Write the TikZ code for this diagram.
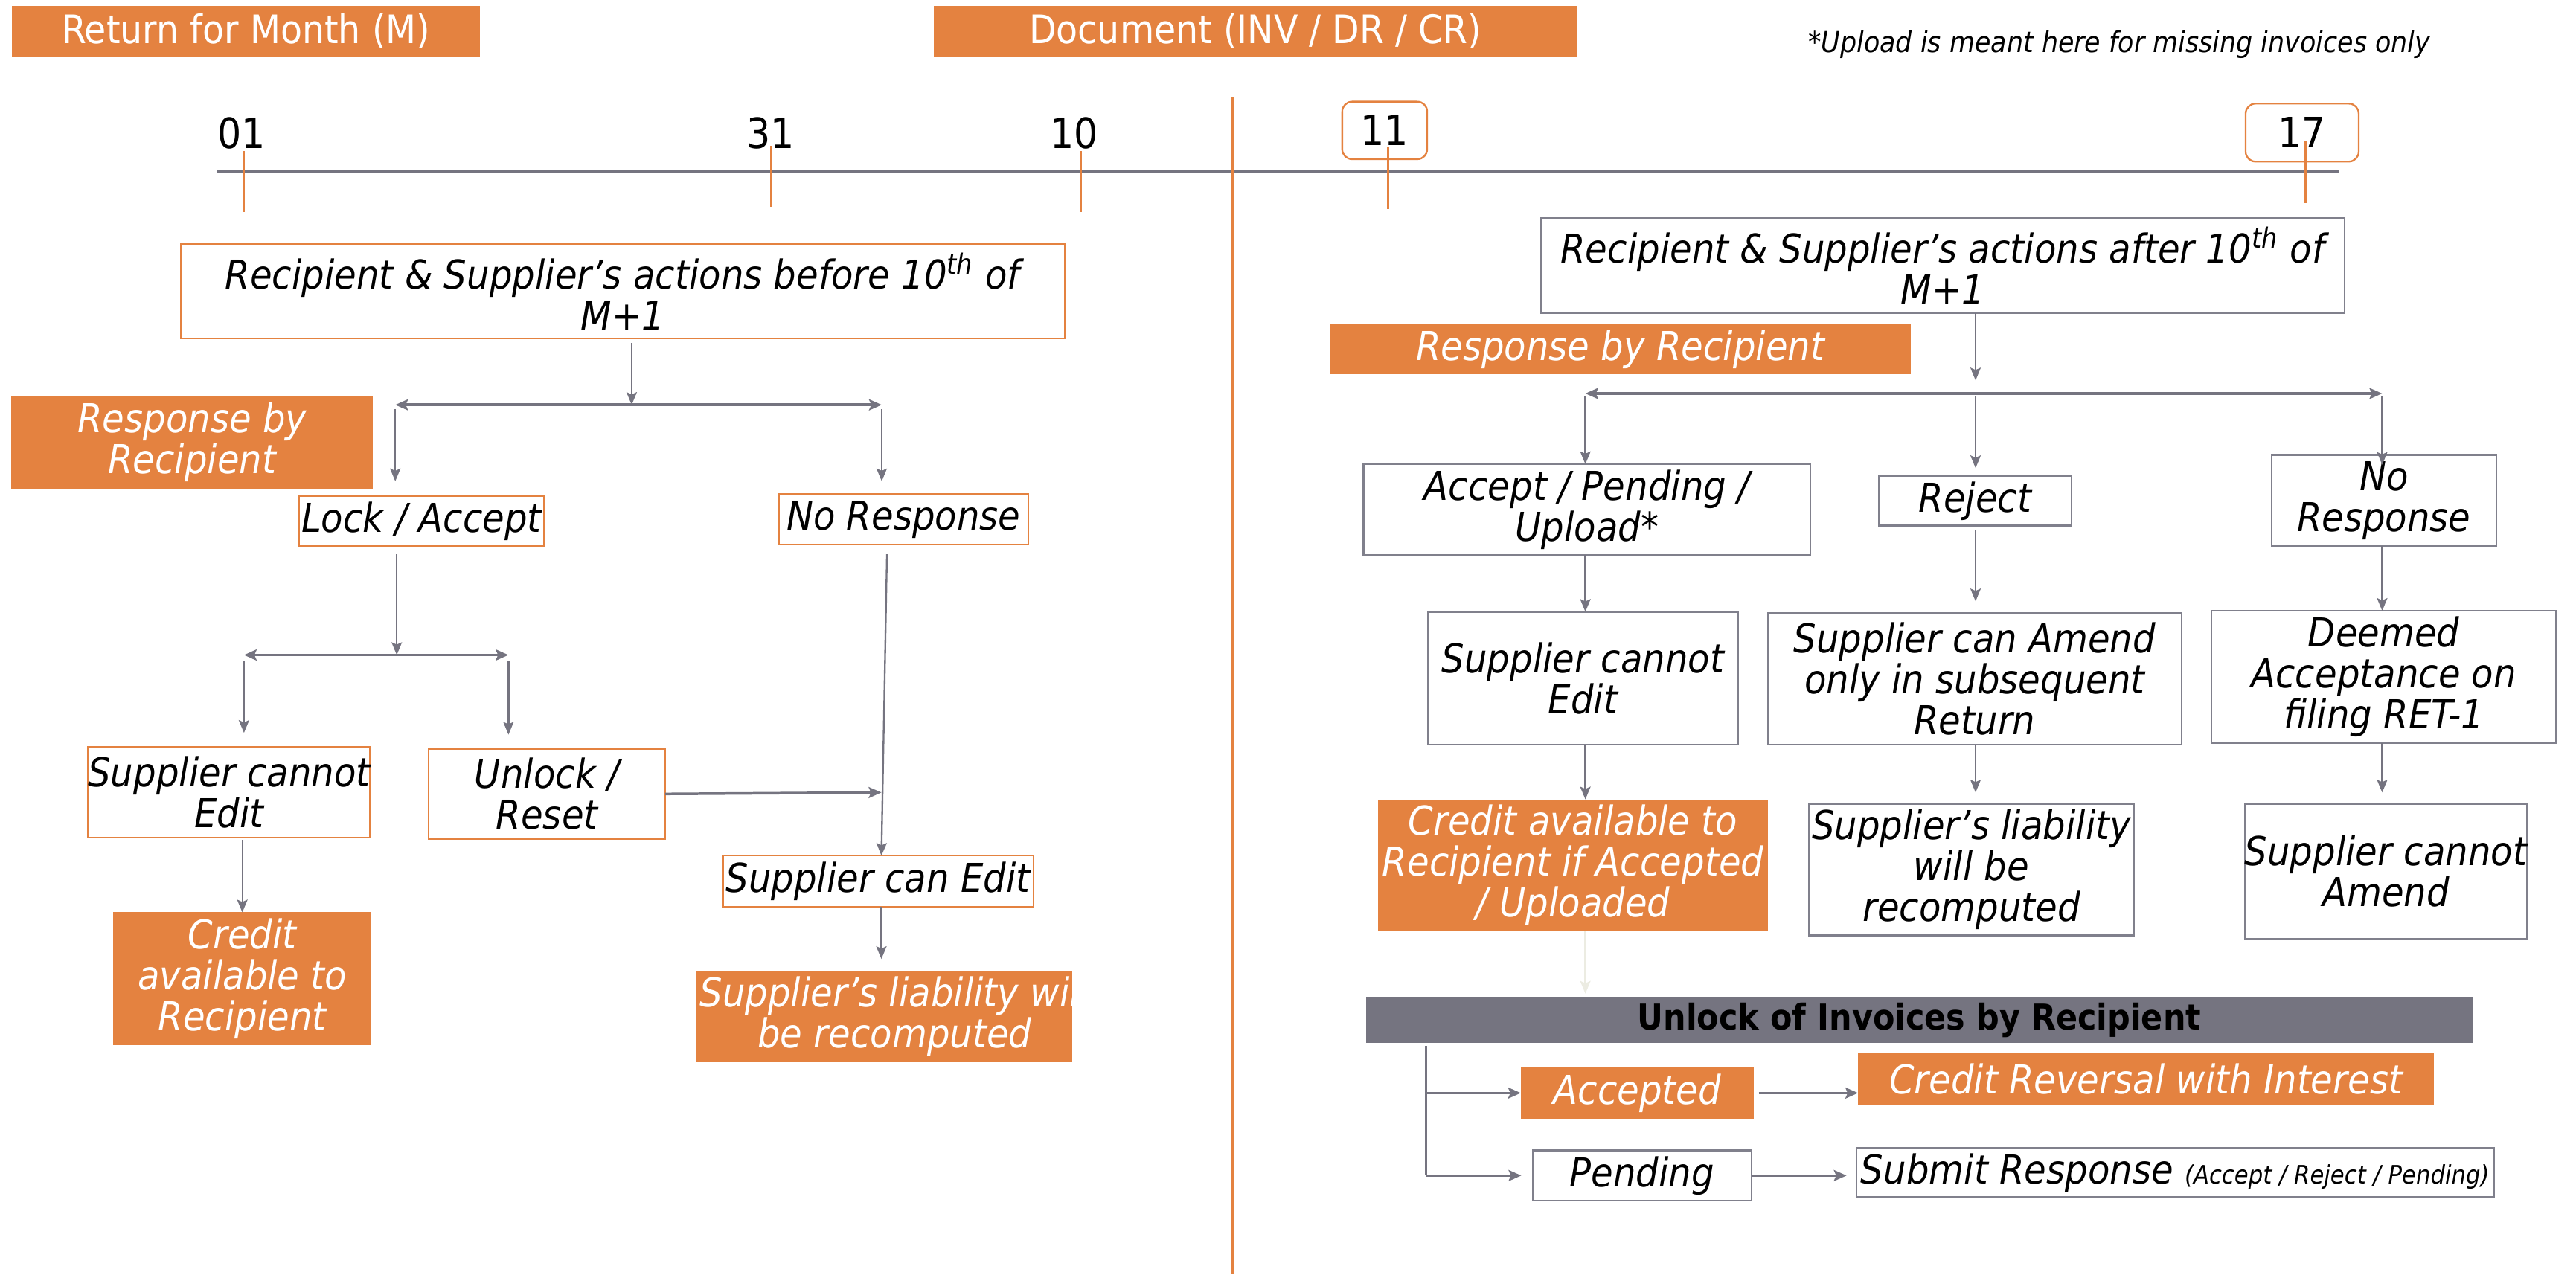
\documentclass[tikz,border=0pt]{standalone}
\usepackage{fontspec}
\setmainfont{DejaVu Sans}[FakeStretch=0.9]
\usetikzlibrary{arrows.meta,calc}

\definecolor{accent}{RGB}{228,130,64}
\definecolor{slate}{RGB}{117,116,128}
\definecolor{frame}{RGB}{128,128,140}
\definecolor{faint}{RGB}{236,236,226}

\newcommand{\bodyfont}{\fontsize{13.8}{14.2}\selectfont\itshape}

\tikzset{
  every node/.style={inner sep=0pt, outer sep=0pt, align=center},
  % a box given by its left, top, right and bottom edges
  span/.style n args={4}{at={({(#1+#3)/2},{(#2+#4)/2})},
    minimum width={(#3-#1)*0.02cm}, minimum height={(#4-#2)*0.02cm}},
  obox/.style={draw=accent, line width=0.6pt, fill=white, font=\bodyfont},
  gbox/.style={draw=frame, line width=0.6pt, fill=white, font=\bodyfont},
  fillbox/.style={fill=accent, text=white, font=\bodyfont},
  header/.style={fill=accent, text=white, font=\fontsize{13.6}{14}\selectfont},
  daybox/.style={draw=accent, line width=0.6pt, rounded corners=0.12cm, font=\fontsize{14.5}{15}\selectfont},
  daylabel/.style={font=\fontsize{14.5}{15}\selectfont, anchor=base},
  tick/.style={draw=accent, line width=0.75pt},
  conn/.style={draw=slate, line width=0.6pt, -{Stealth[length=4.4pt,width=3.6pt,inset=0.8pt]}},
  wide/.style={draw=slate, line width=0.9pt, -{Stealth[length=4.4pt,width=3.8pt,inset=0.8pt]}},
  split/.style={draw=slate, line width=0.9pt, {Stealth[length=4.4pt,width=3.8pt,inset=0.8pt]}-{Stealth[length=4.4pt,width=3.8pt,inset=0.8pt]}},
}

\begin{document}
\begin{tikzpicture}[x=0.02cm, y=-0.02cm]
\useasboundingbox (0,0) rectangle (1568,776);

% ---------- headers ----------
\node[header, span={7.4}{3.6}{292}{34.7}] (hdrMonth) {Return for Month (M)};
\node[header, span={568.6}{3.6}{959.8}{34.7}] (hdrDoc) {Document (INV / DR / CR)};
\node[font=\fontsize{10}{12}\selectfont\itshape, anchor=base] (note) at (1290,32) {*Upload is meant here for missing invoices only};

% ---------- time line ----------
\draw[slate, line width=1.3pt] (131.6,104.4) -- (1424,104.4);
\draw[accent, line width=1.4pt] (750.3,58.9) -- (750.3,776);

\node[daylabel] (d01) at (146.9,90.3) {01};
\node[daylabel] (d31) at (468.9,90.3) {31};
\node[daylabel] (d10) at (654,90.3) {10};
\node[daybox, span={817}{61.9}{868.7}{96.9}] (d11) {11};
\node[daybox, span={1366.9}{63.1}{1435.7}{98.4}] (d17) {17};

\draw[tick] (148.3,92) -- (148.3,129);
\draw[tick] (469.4,89) -- (469.4,126);
\draw[tick] (658,92) -- (658,129);
\draw[tick] (844.7,89.8) -- (844.7,127.3);
\draw[tick] (1403.3,86) -- (1403.3,123.8);

% ---------- before the 10th ----------
\node[obox, span={110}{148.6}{648}{206}] (before) {Recipient \& Supplier’s actions before 10\textsuperscript{th} of\\M+1};
\node[fillbox, span={7}{241}{227}{297.6}] (respL) {Response by\\Recipient};
\node[obox, span={182}{302}{331}{332.5}] (lock) {Lock / Accept};
\node[obox, span={474}{301}{626}{331.5}] (noresL) {No Response};
\node[obox, span={55}{454.7}{224}{510}] (cannotL) {Supplier cannot\\Edit};
\node[obox, span={261}{455.8}{405}{511}] (unlock) {Unlock /\\Reset};
\node[obox, span={440}{521}{629}{552}] (canedit) {Supplier can Edit};
\node[fillbox, span={423.5}{590.9}{652.6}{646.9},
  path picture={\node[font=\bodyfont, text=white, anchor=west]
    at ([xshift=0.05cm]path picture bounding box.west) {Supplier’s liability will\\be recomputed};}] (liabL) {};
\node[fillbox, span={69}{555.5}{226}{636.3}] (creditL) {Credit\\available to\\Recipient};

\coordinate (sL1) at (384.5,246.5);
\coordinate (sL1a) at (240.6,246.5);
\coordinate (sL1b) at (536.7,246.5);
\coordinate (sL2) at (241.5,398.8);
\coordinate (sL2a) at (148.5,398.8);
\coordinate (sL2b) at (309.5,398.8);
\coordinate (mergeL) at (536.5,482.5);
\coordinate (nrFoot) at (540,331.5);
\coordinate (colA) at (147.5,0);

\draw[conn, shorten <=0.06cm] (before.south -| sL1) -- (sL1);
\draw[split] (sL1a) -- (sL1b);
\draw[conn, shorten <=0.05cm, shorten >=0.18cm] (sL1a) -- (sL1a |- lock.north);
\draw[conn, shorten <=0.05cm, shorten >=0.16cm] (sL1b) -- (sL1b |- noresL.north);

\draw[conn, shorten <=0.1cm] (lock.south -| sL2) -- (sL2);
\draw[split] (sL2a) -- (sL2b);
\draw[conn, shorten <=0.08cm, shorten >=0.17cm] (sL2a) -- (sL2a |- cannotL.north);
\draw[conn, shorten <=0.08cm, shorten >=0.17cm] (sL2b) -- (sL2b |- unlock.north);

\draw[wide] (unlock.east) -- (mergeL);
\draw[conn, shorten <=0.12cm] (nrFoot) -- (canedit.north -| mergeL);
\draw[conn, shorten >=0.14cm] (canedit.south -| mergeL) -- (liabL.north -| mergeL);
\draw[conn, shorten <=0.03cm] (cannotL.south -| colA) -- (creditL.north -| colA);

% ---------- after the 10th ----------
\node[gbox, span={938}{132.8}{1427}{190.6}] (after) {Recipient \& Supplier’s actions after 10\textsuperscript{th} of\\M+1};
\node[fillbox, span={809.6}{197.5}{1163}{228}] (respR) {Response by Recipient};
\node[gbox, span={830}{282.6}{1102}{337.8}] (apu) {Accept / Pending /\\Upload*};
\node[gbox, span={1143.6}{290}{1261}{320}] (reject) {Reject};
\node[gbox, span={1382.6}{277}{1519.5}{332.5}] (noresR) {No\\Response};
\node[gbox, span={869}{372.5}{1058}{453.4}] (cannotR) {Supplier cannot\\Edit};
\node[gbox, span={1076}{373.1}{1328}{453.4}] (amend) {Supplier can Amend\\only in subsequent\\Return};
\node[gbox, span={1346}{371.9}{1556}{452.5}] (deemed) {Deemed\\Acceptance on\\filing RET-1};
\node[fillbox, span={839}{486.7}{1076}{566.9}] (creditR) {Credit available to\\Recipient if Accepted\\/ Uploaded};
\node[gbox, span={1101}{489.5}{1299}{569.5}] (liabR) {Supplier’s liability\\will be\\recomputed};
\node[gbox, span={1367}{489.5}{1537.5}{571.6}] (amendNo) {Supplier cannot\\Amend};

\coordinate (sR) at (1202.5,239.6);
\coordinate (sRa) at (965,239.6);
\coordinate (sRb) at (1450,239.6);

\draw[conn, shorten >=0.16cm] (after.south -| sR) -- (sR);
\draw[split] (sRa) -- (sRb);
\draw[conn, shorten <=0.03cm] (sRa) -- (sRa |- apu.north);
\draw[conn, shorten <=0.03cm, shorten >=0.1cm] (sR) -- (sR |- reject.north);
\draw[conn, shorten <=0.03cm] (sRb) -- ([yshift=-0.12cm]sRb |- noresR.north);

\draw[conn] (apu.south -| sRa) -- (cannotR.north -| sRa);
\draw[conn, shorten <=0.05cm, shorten >=0.14cm] (reject.south -| sR) -- (amend.north -| sR);
\draw[conn] (noresR.south -| sRb) -- (deemed.north -| sRb);

\draw[conn] (cannotR.south -| sRa) -- (creditR.north -| sRa);
\draw[conn, shorten >=0.14cm] (amend.south -| sR) -- (liabR.north -| sR);
\draw[conn, shorten >=0.14cm] (deemed.south -| sRb) -- (amendNo.north -| sRb);

% ---------- unlock by recipient ----------
\node[fill=slate, font=\fontsize{12.3}{13}\selectfont\bfseries, span={831.5}{607}{1505}{635}] (unlockbar) {Unlock of Invoices by Recipient};
\node[fillbox, span={925.7}{650}{1067.5}{681}] (accepted) {Accepted};
\node[fillbox, span={1131}{641.5}{1481.5}{672.5}] (reversal) {Credit Reversal with Interest};
\node[gbox, span={933}{700.5}{1066}{731}] (pending) {Pending};
\node[gbox, span={1130}{699}{1518}{729}] (submit) {Submit Response {\fontsize{8.8}{9}\selectfont (Accept / Reject / Pending)}};

\coordinate (railX) at (868,0);

\draw[draw=faint, line width=0.6pt, -{Stealth[length=4.4pt,width=3.6pt,inset=0.8pt]}, shorten >=0.04cm] (creditR.south -| sRa) -- (unlockbar.north -| sRa);
\draw[slate, line width=0.6pt, shorten <=0.04cm] (unlockbar.south -| railX) -- (railX |- pending.west);
\draw[wide] (railX |- accepted.west) -- (accepted.west);
\draw[wide, shorten >=0.14cm] (railX |- pending.west) -- (pending.west);
\draw[wide, shorten <=0.06cm] (accepted.east) -- (reversal.west |- accepted.east);
\draw[wide, shorten >=0.12cm] (pending.east) -- (submit.west |- pending.east);
\end{tikzpicture}
\end{document}
